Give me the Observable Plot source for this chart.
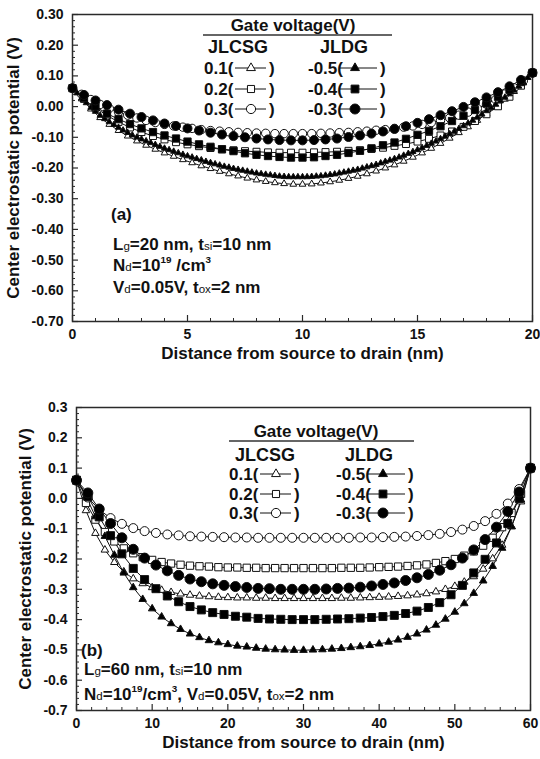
<!DOCTYPE html>
<html><head><meta charset="utf-8">
<script src="https://cdn.jsdelivr.net/npm/d3@7"></script>
<script src="https://cdn.jsdelivr.net/npm/@observablehq/plot@0.6"></script>
<style>
body{margin:0;background:#fff;}
#chart{width:540px;}
#chart svg{display:block;}
</style>
</head><body><div id="chart"></div>
<script>
const FONT = '"Liberation Sans", Arial, Helvetica, sans-serif';

// ---------- Panel (a): Lg = 20 nm  (values in V, sampled every `step` nm from x = 0) ----------
const a_JLCSG_01_step = 0.4;
const a_JLCSG_01 = [0.060,0.025,-0.008,-0.036,-0.058,-0.078,-0.096,-0.112,-0.126,-0.139,
  -0.151,-0.162,-0.173,-0.183,-0.193,-0.202,-0.211,-0.219,-0.226,-0.233,
  -0.239,-0.244,-0.248,-0.251,-0.253,-0.253,-0.252,-0.249,-0.245,-0.240,
  -0.234,-0.227,-0.219,-0.210,-0.200,-0.190,-0.178,-0.165,-0.151,-0.136,
  -0.120,-0.103,-0.085,-0.066,-0.045,-0.023,0.000,0.024,0.049,0.077,0.110];
const a_JLCSG_02_step = 0.5;
const a_JLCSG_02 = [0.060,0.025,-0.004,-0.029,-0.050,-0.068,-0.083,-0.096,-0.107,-0.116,
  -0.123,-0.129,-0.135,-0.139,-0.142,-0.145,-0.147,-0.149,-0.150,-0.150,
  -0.150,-0.149,-0.148,-0.147,-0.144,-0.142,-0.138,-0.134,-0.128,-0.122,
  -0.114,-0.105,-0.094,-0.081,-0.066,-0.047,-0.025,0.001,0.032,0.068,0.110];
const a_JLCSG_03_step = 0.4;
const a_JLCSG_03 = [0.060,0.040,0.023,0.007,-0.006,-0.018,-0.028,-0.037,-0.045,-0.052,
  -0.058,-0.063,-0.067,-0.071,-0.075,-0.078,-0.080,-0.082,-0.084,-0.085,
  -0.086,-0.087,-0.088,-0.088,-0.088,-0.088,-0.088,-0.087,-0.086,-0.085,
  -0.084,-0.082,-0.080,-0.077,-0.075,-0.071,-0.067,-0.063,-0.058,-0.052,
  -0.045,-0.037,-0.028,-0.018,-0.006,0.008,0.023,0.041,0.061,0.084,0.110];
const a_JLDG_05_step = 0.2;
const a_JLDG_05 = [0.060,0.044,0.028,0.012,-0.003,-0.016,-0.029,-0.040,-0.050,-0.059,
  -0.068,-0.077,-0.085,-0.093,-0.100,-0.106,-0.112,-0.118,-0.124,-0.130,
  -0.136,-0.141,-0.146,-0.151,-0.156,-0.161,-0.165,-0.170,-0.174,-0.179,
  -0.183,-0.187,-0.191,-0.195,-0.198,-0.202,-0.205,-0.208,-0.211,-0.214,
  -0.217,-0.219,-0.221,-0.223,-0.225,-0.227,-0.228,-0.229,-0.229,-0.229,
  -0.229,-0.229,-0.228,-0.227,-0.226,-0.224,-0.222,-0.220,-0.217,-0.214,
  -0.211,-0.208,-0.205,-0.201,-0.197,-0.193,-0.189,-0.184,-0.179,-0.175,
  -0.170,-0.165,-0.159,-0.153,-0.147,-0.141,-0.134,-0.127,-0.120,-0.113,
  -0.105,-0.097,-0.089,-0.081,-0.072,-0.063,-0.054,-0.045,-0.035,-0.025,
  -0.014,-0.004,0.007,0.018,0.030,0.041,0.053,0.066,0.079,0.094,0.110];
const a_JLDG_04_step = 0.5;
const a_JLDG_04 = [0.060,0.028,0.000,-0.023,-0.041,-0.057,-0.071,-0.083,-0.094,-0.104,
  -0.114,-0.123,-0.131,-0.139,-0.145,-0.152,-0.157,-0.161,-0.164,-0.166,
  -0.166,-0.165,-0.161,-0.157,-0.151,-0.144,-0.136,-0.126,-0.117,-0.105,
  -0.092,-0.079,-0.064,-0.047,-0.030,-0.011,0.010,0.032,0.055,0.080,0.110];
const a_JLDG_03_step = 0.5;
const a_JLDG_03 = [0.060,0.038,0.020,0.005,-0.010,-0.023,-0.034,-0.045,-0.055,-0.063,
  -0.071,-0.078,-0.085,-0.091,-0.096,-0.100,-0.104,-0.107,-0.109,-0.110,
  -0.110,-0.109,-0.107,-0.104,-0.099,-0.094,-0.088,-0.081,-0.073,-0.064,
  -0.053,-0.041,-0.028,-0.015,-0.001,0.014,0.030,0.047,0.066,0.087,0.110];
const aXTicks = [0, 5, 10, 15, 20];
const aXMinor = [1,2,3,4,6,7,8,9,11,12,13,14,16,17,18,19];
const aYTicks = [0.30, 0.20, 0.10, 0.00, -0.10, -0.20, -0.30, -0.40, -0.50, -0.60, -0.70];

// ---------- Panel (b): Lg = 60 nm ----------
const b_JLCSG_01_step = 1.25;
const b_JLCSG_01 = [0.060,-0.040,-0.115,-0.170,-0.211,-0.242,-0.265,-0.281,-0.294,-0.303,
  -0.310,-0.315,-0.319,-0.322,-0.324,-0.326,-0.327,-0.328,-0.328,-0.329,
  -0.329,-0.330,-0.330,-0.330,-0.330,-0.330,-0.330,-0.330,-0.329,-0.329,
  -0.328,-0.327,-0.326,-0.325,-0.323,-0.321,-0.318,-0.314,-0.308,-0.300,
  -0.290,-0.276,-0.258,-0.233,-0.199,-0.154,-0.093,-0.011,0.100];
const b_JLCSG_02_step = 1.25;
const b_JLCSG_02 = [0.060,-0.015,-0.070,-0.111,-0.142,-0.165,-0.181,-0.194,-0.203,-0.210,
  -0.215,-0.219,-0.222,-0.224,-0.225,-0.227,-0.228,-0.228,-0.229,-0.229,
  -0.230,-0.230,-0.230,-0.230,-0.230,-0.230,-0.230,-0.230,-0.229,-0.229,
  -0.229,-0.228,-0.227,-0.226,-0.225,-0.223,-0.221,-0.218,-0.213,-0.207,
  -0.200,-0.189,-0.175,-0.156,-0.130,-0.095,-0.048,0.015,0.100];
const b_JLCSG_03_step = 1.5;
const b_JLCSG_03 = [0.060,0.003,-0.037,-0.065,-0.084,-0.098,-0.108,-0.114,-0.119,-0.122,
  -0.125,-0.126,-0.127,-0.128,-0.129,-0.129,-0.130,-0.130,-0.130,-0.130,
  -0.130,-0.130,-0.130,-0.130,-0.130,-0.129,-0.129,-0.128,-0.127,-0.126,
  -0.124,-0.121,-0.117,-0.111,-0.103,-0.091,-0.075,-0.051,-0.017,0.031,0.100];
const b_JLDG_05_step = 1.25;
const b_JLDG_05 = [0.060,0.007,-0.060,-0.125,-0.187,-0.246,-0.294,-0.333,-0.364,-0.391,
  -0.413,-0.432,-0.447,-0.459,-0.469,-0.476,-0.482,-0.487,-0.490,-0.494,
  -0.497,-0.499,-0.500,-0.501,-0.501,-0.500,-0.499,-0.497,-0.495,-0.492,
  -0.489,-0.485,-0.480,-0.474,-0.467,-0.458,-0.447,-0.434,-0.418,-0.398,
  -0.375,-0.347,-0.313,-0.272,-0.224,-0.164,-0.093,-0.005,0.100];
const b_JLDG_04_step = 1.5;
const b_JLDG_04 = [0.060,0.006,-0.061,-0.123,-0.183,-0.231,-0.268,-0.298,-0.322,-0.341,
  -0.357,-0.368,-0.377,-0.383,-0.389,-0.392,-0.396,-0.398,-0.399,-0.400,
  -0.400,-0.400,-0.399,-0.398,-0.397,-0.395,-0.393,-0.390,-0.386,-0.380,
  -0.372,-0.360,-0.344,-0.318,-0.287,-0.246,-0.201,-0.147,-0.083,0.000,0.100];
const b_JLDG_03_step = 1.5;
const b_JLDG_03 = [0.060,0.018,-0.035,-0.083,-0.130,-0.168,-0.197,-0.220,-0.239,-0.254,
  -0.266,-0.275,-0.282,-0.287,-0.291,-0.294,-0.297,-0.298,-0.300,-0.300,
  -0.300,-0.300,-0.299,-0.297,-0.296,-0.293,-0.289,-0.284,-0.279,-0.271,
  -0.262,-0.251,-0.237,-0.219,-0.197,-0.170,-0.136,-0.095,-0.043,0.021,0.100];
const bXTicks = [0, 10, 20, 30, 40, 50, 60];
const bXMinor = [2,4,6,8,12,14,16,18,22,24,26,28,32,34,36,38,42,44,46,48,52,54,56,58];
const bYTicks = [0.3, 0.2, 0.1, 0.0, -0.1, -0.2, -0.3, -0.4, -0.5, -0.6, -0.7];

const yMinor = [0.28,0.26,0.24,0.22,0.18,0.16,0.14,0.12,0.08,0.06,0.04,0.02,-0.02,-0.04,-0.06,-0.08,
  -0.12,-0.14,-0.16,-0.18,-0.22,-0.24,-0.26,-0.28,-0.32,-0.34,-0.36,-0.38,-0.42,-0.44,-0.46,-0.48,
  -0.52,-0.54,-0.56,-0.58,-0.62,-0.64,-0.66,-0.68];

const seriesNames = ["JLCSG 0.1","JLCSG 0.2","JLCSG 0.3","JLDG -0.5","JLDG -0.4","JLDG -0.3"];
const legendLeft = ["0.1(", "0.2(", "0.3("];
const legendRight = ["-0.5(", "-0.4(", "-0.3("];
const symbols = ["triangle","square","circle","triangle","square","circle"];
const fills = ["white","white","white","black","black","black"];

function toRows(step, name, values) {
  return values.map((v, i) => ({name, x: +(i * step).toFixed(4), y: v}));
}

const aData = [
  toRows(a_JLCSG_01_step, seriesNames[0], a_JLCSG_01),
  toRows(a_JLCSG_02_step, seriesNames[1], a_JLCSG_02),
  toRows(a_JLCSG_03_step, seriesNames[2], a_JLCSG_03),
  toRows(a_JLDG_05_step, seriesNames[3], a_JLDG_05),
  toRows(a_JLDG_04_step, seriesNames[4], a_JLDG_04),
  toRows(a_JLDG_03_step, seriesNames[5], a_JLDG_03)
];
const bData = [
  toRows(b_JLCSG_01_step, seriesNames[0], b_JLCSG_01),
  toRows(b_JLCSG_02_step, seriesNames[1], b_JLCSG_02),
  toRows(b_JLCSG_03_step, seriesNames[2], b_JLCSG_03),
  toRows(b_JLDG_05_step, seriesNames[3], b_JLDG_05),
  toRows(b_JLDG_04_step, seriesNames[4], b_JLDG_04),
  toRows(b_JLDG_03_step, seriesNames[5], b_JLDG_03)
];

function panel(opts) {
  const {data, width, height, mt, mb, ml, mr, xDomain, xTicks, xMinor, yTicks, yFmt, radii} = opts;
  const ih = height - mt - mb, iw = width - ml - mr;
  const marks = [
    Plot.frame({stroke: "#2a2a2a", strokeWidth: 1.5}),
    Plot.axisX({ticks: xTicks, tickSize: 0, tickPadding: 8, tickFormat: d => String(d), label: null, fontSize: 14}),
    Plot.axisY({ticks: yTicks, tickSize: 0, tickPadding: 9, tickFormat: yFmt, label: null, fontSize: 14}),
    Plot.tickX(xTicks, {x: d => d, insetTop: ih - 6, stroke: "#2a2a2a", strokeWidth: 1.2}),
    Plot.tickX(xMinor, {x: d => d, insetTop: ih - 3, stroke: "#2a2a2a", strokeWidth: 1}),
    Plot.tickY(yTicks, {y: d => d, insetRight: iw - 6, stroke: "#2a2a2a", strokeWidth: 1.2}),
    Plot.tickY(yMinor, {y: d => d, insetRight: iw - 3, stroke: "#2a2a2a", strokeWidth: 1}),
    Plot.text(["Distance from source to drain (nm)"], {frameAnchor: "bottom", dy: opts.xLabelDy, fontSize: 17, fontWeight: "bold", fill: "#111"}),
    Plot.text(["Center electrostatic potential (V)"], {frameAnchor: "left", textAnchor: "middle", dx: opts.yLabelDx, rotate: -90, fontSize: 17, fontWeight: "bold", fill: "#111"})
  ];
  data.forEach(rows => {
    marks.push(Plot.line(rows, {x: "x", y: "y", stroke: "#111", strokeWidth: 1}));
  });
  data.forEach((rows, k) => {
    marks.push(Plot.dot(rows, {x: "x", y: "y", symbol: symbols[k], r: radii[k], fill: fills[k], stroke: "#111", strokeWidth: 1}));
  });
  return Plot.plot({
    width, height, marginTop: mt, marginBottom: mb, marginLeft: ml, marginRight: mr,
    x: {domain: xDomain}, y: {domain: [-0.7, 0.3]},
    style: {fontFamily: FONT, fontWeight: "bold", color: "#111", background: "white", overflow: "visible"},
    marks
  });
}

const svgA = panel({data: aData, width: 540, height: 385, mt: 14, mb: 64, ml: 72, mr: 8,
  xDomain: [0, 20], xTicks: aXTicks, xMinor: aXMinor, yTicks: aYTicks, yFmt: d => d.toFixed(2),
  radii: [2.5, 3.9, 4.2, 2.3, 4.1, 4.5], yLabelDx: -59, xLabelDy: 37});
const svgB = panel({data: bData, width: 540, height: 374, mt: 22, mb: 49, ml: 76, mr: 10,
  xDomain: [0, 60], xTicks: bXTicks, xMinor: bXMinor, yTicks: bYTicks, yFmt: d => d.toFixed(1),
  radii: [2.8, 4.1, 4.5, 2.8, 4.5, 5.0], yLabelDx: -51, xLabelDy: 37});

document.getElementById("chart").append(svgA, svgB);

// ---------- legend and annotations (pixel layout) ----------
function txt(g, x, y, s, size, anchor) {
  return g.append("text").attr("x", x).attr("y", y).attr("text-anchor", anchor || "start")
    .attr("font-family", FONT).attr("font-weight", "bold").attr("font-size", size).attr("fill", "#111").text(s);
}

function richLine(g, x, y, parts, size) {
  const t = g.append("text").attr("x", x).attr("y", y).attr("text-anchor", "start")
    .attr("font-family", FONT).attr("font-weight", "bold").attr("font-size", size).attr("fill", "#111");
  parts.forEach(([s, kind]) => {
    const ts = t.append("tspan").text(s);
    if (kind === "sub") ts.attr("font-size", size * 0.68).attr("font-weight", "normal");
    if (kind === "sup") ts.attr("font-size", size * 0.58).attr("dy", -size * 0.45);
    if (kind === "after") ts.attr("dy", size * 0.45);
  });
  return t;
}

function legend(svg, L) {
  const g = d3.select(svg).append("g");
  txt(g, L.cx, L.hy, "Gate voltage(V)", 17, "middle");
  g.append("line").attr("x1", L.ux1).attr("x2", L.ux2).attr("y1", L.uy).attr("y2", L.uy)
    .attr("stroke", "#333").attr("stroke-width", 1.5);
  txt(g, L.c1, L.jy, "JLCSG", 18, "middle");
  txt(g, L.c2, L.jy, "JLDG", 18, "middle");
  for (let i = 0; i < 3; i++) {
    const y = L.rows[i];
    [[legendLeft[i], L.lx, i, 0], [legendRight[i], L.rx, i + 3, 1]].forEach(([s, x0, k, side]) => {
      txt(g, x0, y, s, 17);
      const my = y - 6;
      g.append("line").attr("x1", x0 + L.lineStart[side]).attr("x2", x0 + L.lineEnd[side])
        .attr("y1", my).attr("y2", my).attr("stroke", "#111").attr("stroke-width", 1);
      const type = symbols[k] === "triangle" ? d3.symbolTriangle : symbols[k] === "square" ? d3.symbolSquare : d3.symbolCircle;
      const r = L.radii[k];
      g.append("path").attr("d", d3.symbol(type, Math.PI * r * r)())
        .attr("transform", `translate(${x0 + L.mark[side]},${my})`)
        .attr("fill", fills[k]).attr("stroke", "#111").attr("stroke-width", 1);
      txt(g, x0 + L.close[side], y, ")", 17);
    });
  }
}

legend(svgA, {cx: 293, hy: 31, ux1: 203, ux2: 392, uy: 35, c1: 238, c2: 344, jy: 53, rows: [74, 95, 115],
  lx: 204, rx: 308, lineStart: [31, 32], lineEnd: [62, 69], mark: [47, 47], close: [65, 72],
  radii: [3.3, 4.0, 4.6, 3.3, 4.4, 5.0]});
legend(svgB, {cx: 316, hy: 52, ux1: 229, ux2: 414, uy: 56, c1: 265, c2: 369, jy: 76, rows: [95, 115, 134],
  lx: 229, rx: 336, lineStart: [31, 32], lineEnd: [62, 69], mark: [47, 47], close: [65, 72],
  radii: [3.3, 4.0, 4.6, 3.3, 4.4, 5.0]});

// annotations
const ga = d3.select(svgA).append("g");
richLine(ga, 111, 220, [["(a)", ""]], 17);
richLine(ga, 113, 250, [["L", ""], ["g", "sub"], ["=20 nm, t", ""], ["si", "sub"], ["=10 nm", ""]], 17);
richLine(ga, 113, 271, [["N", ""], ["d", "sub"], ["=10", ""], ["19", "sup"], [" /cm", "after"], ["3", "sup"]], 17);
richLine(ga, 113, 293, [["V", ""], ["d", "sub"], ["=0.05V, t", ""], ["ox", "sub"], ["=2 nm", ""]], 17);

const gb = d3.select(svgB).append("g");
richLine(gb, 81, 271, [["(b)", ""]], 17);
richLine(gb, 84, 290, [["L", ""], ["g", "sub"], ["=60 nm, t", ""], ["si", "sub"], ["=10 nm", ""]], 17);
richLine(gb, 84, 315, [["N", ""], ["d", "sub"], ["=10", ""], ["19", "sup"], ["/cm", "after"], ["3", "sup"],
  [", V", "after"], ["d", "sub"], ["=0.05V, t", ""], ["ox", "sub"], ["=2 nm", ""]], 17);
</script>
</body></html>
